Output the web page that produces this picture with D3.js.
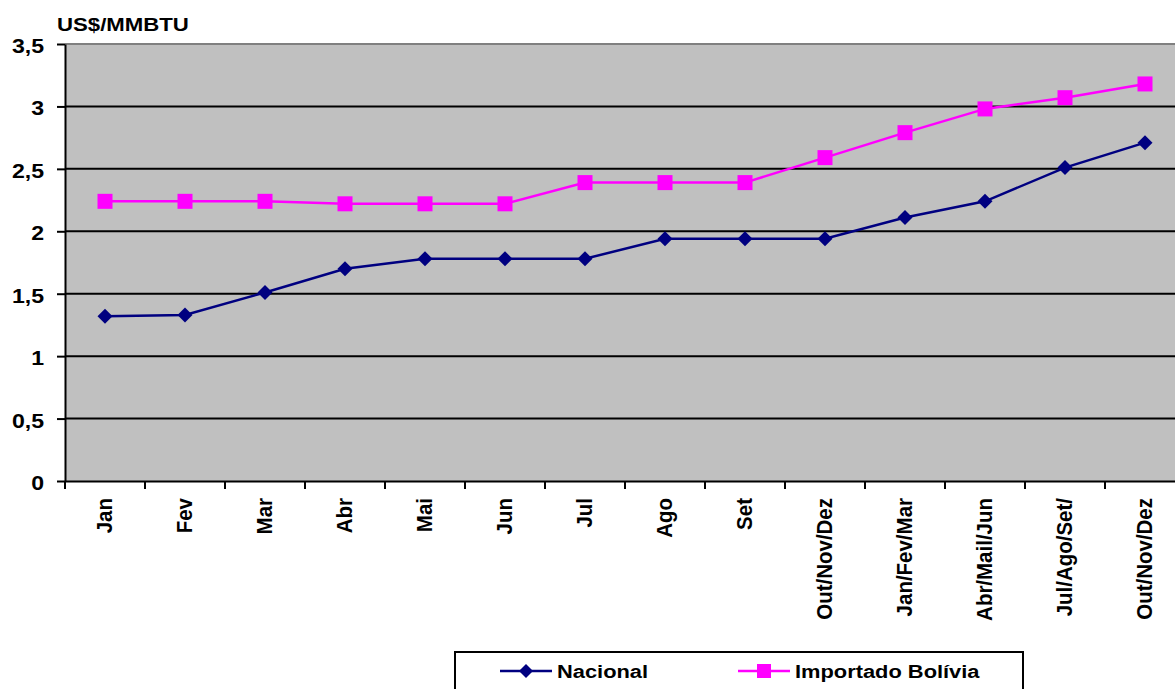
<!DOCTYPE html>
<html>
<head>
<meta charset="utf-8">
<script src="https://cdn.jsdelivr.net/npm/d3@7"></script>
<style>
  html, body { margin: 0; padding: 0; background: #ffffff; }
  svg { display: block; }
  text { font-family: "Liberation Sans", Arial, sans-serif; font-weight: bold; fill: #000; }
</style>
</head>
<body>
<svg id="chart" width="1175" height="689"></svg>
<script>
// Categories (months, then quarters)
const categories = ["Jan", "Fev", "Mar", "Abr", "Mai", "Jun", "Jul", "Ago", "Set",
  "Out/Nov/Dez", "Jan/Fev/Mar", "Abr/Mail/Jun", "Jul/Ago/Set/", "Out/Nov/Dez"];

// Gas prices, US$/MMBTU
const nacional = [1.32, 1.33, 1.51, 1.70, 1.78, 1.78, 1.78, 1.94, 1.94, 1.94, 2.11, 2.24, 2.51, 2.71];
const importadoBolivia = [2.24, 2.24, 2.24, 2.22, 2.22, 2.22, 2.39, 2.39, 2.39, 2.59, 2.79, 2.98, 3.07, 3.18];

const yTicks = [0, 0.5, 1, 1.5, 2, 2.5, 3, 3.5];
const unitLabel = "US$/MMBTU";
const seriesNames = ["Nacional", "Importado Bolívia"];

const svg = d3.select("#chart");
const plot = { left: 65, top: 44, right: 1185, bottom: 481 };
const fmt = v => String(v).replace(".", ",");

const x = d3.scaleBand().domain(d3.range(categories.length)).range([plot.left, plot.right]).padding(0);
const y = d3.scaleLinear().domain([0, 3.5]).range([plot.bottom, plot.top]);
const cx = i => x(i) + x.bandwidth() / 2;

// Plot background
svg.append("rect")
  .attr("x", plot.left).attr("y", plot.top)
  .attr("width", plot.right - plot.left).attr("height", plot.bottom - plot.top)
  .attr("fill", "#c0c0c0");

// Horizontal gridlines
svg.append("g").selectAll("line")
  .data(yTicks.filter(t => t > 0))
  .join("line")
  .attr("x1", plot.left).attr("x2", plot.right)
  .attr("y1", d => y(d)).attr("y2", d => y(d))
  .attr("stroke", d => d === 3.5 ? "#808080" : "#000")
  .attr("stroke-width", 2);

// Y axis
const yAxis = svg.append("g")
  .attr("transform", `translate(${plot.left},0)`)
  .call(d3.axisLeft(y).tickValues(yTicks).tickSize(8).tickSizeOuter(0).tickFormat(fmt));
yAxis.select(".domain").attr("stroke", "#000").attr("stroke-width", 2);
yAxis.selectAll(".tick line").attr("stroke", "#000").attr("stroke-width", 2);
yAxis.selectAll(".tick text")
  .attr("x", 0).attr("dy", "0.36em")
  .attr("transform", "translate(-21,1) scale(1.1,1)")
  .attr("text-anchor", "end")
  .style("font-size", "21px");

// X axis
const xAxis = svg.append("g")
  .attr("transform", `translate(0,${plot.bottom})`)
  .call(d3.axisBottom(x).tickSize(8).tickSizeOuter(0).tickFormat(i => categories[i]));
xAxis.select(".domain").attr("stroke", "#000").attr("stroke-width", 2);
xAxis.selectAll(".tick line")
  .attr("stroke", "#000").attr("stroke-width", 2)
  .attr("transform", `translate(${-x.bandwidth() / 2},0)`);
xAxis.selectAll(".tick text")
  .attr("x", 0).attr("y", 0).attr("dy", "0.36em")
  .attr("transform", "translate(-1,17) scale(1.1,1) rotate(-90)")
  .attr("text-anchor", "end")
  .style("font-size", "20.5px");

// Unit label
svg.append("text")
  .attr("transform", "translate(57,31) scale(1.2,1)")
  .style("font-size", "18.5px")
  .text(unitLabel);

// Series lines and markers
const line = d3.line().x((d, i) => cx(i)).y(d => y(d));
const navy = "#000080", magenta = "#ff00ff";

svg.append("path").datum(nacional)
  .attr("d", line).attr("fill", "none").attr("stroke", navy).attr("stroke-width", 2.5);
svg.append("path").datum(importadoBolivia)
  .attr("d", line).attr("fill", "none").attr("stroke", magenta).attr("stroke-width", 2.5);

const diamond = (px, py, r) => `M${px},${py - r}L${px + r},${py}L${px},${py + r}L${px - r},${py}Z`;

svg.append("g").selectAll("path")
  .data(nacional)
  .join("path")
  .attr("d", (d, i) => diamond(cx(i), y(d), 7.5))
  .attr("fill", navy);

svg.append("g").selectAll("rect")
  .data(importadoBolivia)
  .join("rect")
  .attr("x", (d, i) => cx(i) - 7.5).attr("y", d => y(d) - 7.5)
  .attr("width", 15).attr("height", 15)
  .attr("fill", magenta);

// Legend
const legend = svg.append("g");
legend.append("rect")
  .attr("x", 455).attr("y", 652).attr("width", 568).attr("height", 60)
  .attr("fill", "#fff").attr("stroke", "#000").attr("stroke-width", 2);

const ly = 671;
legend.append("line").attr("x1", 500).attr("x2", 552).attr("y1", ly).attr("y2", ly)
  .attr("stroke", navy).attr("stroke-width", 2.5);
legend.append("path").attr("d", diamond(526, ly, 7)).attr("fill", navy);
legend.append("text")
  .attr("transform", "translate(557,678) scale(1.15,1)")
  .style("font-size", "19px").text(seriesNames[0]);

legend.append("line").attr("x1", 738).attr("x2", 790).attr("y1", ly).attr("y2", ly)
  .attr("stroke", magenta).attr("stroke-width", 2.5);
legend.append("rect").attr("x", 757).attr("y", ly - 7).attr("width", 14).attr("height", 14)
  .attr("fill", magenta);
legend.append("text")
  .attr("transform", "translate(795,678) scale(1.15,1)")
  .style("font-size", "19px").text(seriesNames[1]);
</script>
</body>
</html>
